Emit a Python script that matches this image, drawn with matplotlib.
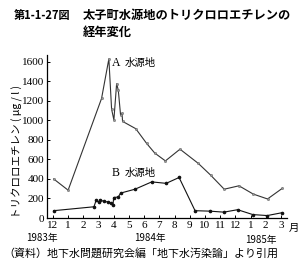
import matplotlib
matplotlib.use("Agg")
import matplotlib.pyplot as plt

plt.rcParams['font.family'] = ['Noto Sans CJK JP', 'DejaVu Sans']

# months counted from Dec 1983 (=0)
a_month = [0.05, 1.0, 3.2, 3.68, 3.86, 4.01, 4.19, 4.3, 4.45, 4.55, 4.58,
           5.45, 6.16, 6.7, 7.4, 8.36, 9.56, 10.37, 11.27, 12.24, 13.18, 14.12, 15.1]
a_value = [400, 285, 1225, 1630, 1115, 1005, 1375, 1310, 1055, 1075, 990,
           915, 765, 665, 585, 705, 560, 440, 295, 330, 245, 195, 305]

b_month = [0.05, 2.7, 2.85, 3.0, 3.1, 3.35, 3.6, 3.85, 3.95, 4.0, 4.3, 4.45,
           5.4, 6.5, 7.45, 8.3, 9.35, 10.35, 11.25, 12.15, 13.15, 14.1, 15.1]
b_value = [75, 115, 185, 160, 185, 170, 165, 155, 135, 210, 215, 255,
           295, 370, 355, 415, 75, 70, 60, 85, 35, 25, 55]

tick_labels = ["12", "1", "2", "3", "4", "5", "6", "7", "8", "9",
               "10", "11", "12", "1", "2", "3"]
y_ticks = [0, 200, 400, 600, 800, 1000, 1200, 1400, 1600]

W, H = 303, 272
fig = plt.figure(figsize=(W / 100, H / 100), dpi=100)
ax = fig.add_axes([47 / W, 54 / H, 240 / W, 163 / H])

ax.plot(a_month, a_value, color="#333333", lw=0.8, marker="o", ms=1.6,
        mfc="#999999", mec="#666666", mew=0.4)
ax.plot(b_month, b_value, color="#111111", lw=0.8, marker="o", ms=1.6,
        mfc="#111111", mec="#111111")

ax.set_xlim(-0.39, 15.4)
ax.set_ylim(0, 1670)
ax.set_xticks(range(len(tick_labels)))
ax.set_xticklabels(tick_labels)
ax.set_yticks(y_ticks)
for s in ["top", "right"]:
    ax.spines[s].set_visible(False)
for s in ["left", "bottom"]:
    ax.spines[s].set_linewidth(0.9)
ax.tick_params(direction="in", length=2.5, width=0.7, pad=2)
for lab in ax.get_xticklabels() + ax.get_yticklabels():
    lab.set_family("Liberation Serif")
    lab.set_fontsize(8)

ax.text(3.85, 1590, "A", fontsize=8.5, family="Liberation Serif", va="center")
ax.text(4.75, 1590, "水源地", fontsize=7.5, va="center")
ax.text(3.85, 460, "B", fontsize=8.5, family="Liberation Serif", va="center")
ax.text(4.75, 460, "水源地", fontsize=7.5, va="center")

def px(x, y, s, **kw):
    fig.text(x / W, 1 - y / H, s, **kw)

px(14, 15, "第1-1-27図", fontsize=8, fontweight="bold", va="center")
px(83, 15, "太子町水源地のトリクロロエチレンの", fontsize=8.8,
   fontweight="bold", va="center")
px(83, 32, "経年変化", fontsize=8.8, fontweight="bold", va="center")
px(17, 151, "トリクロロエチレン ( μg / l )", fontsize=7.6, rotation=90,
   ha="center", va="center")
px(289, 228, "月", fontsize=7.5, va="center")
px(42, 238, "1983年", fontsize=7, ha="center", va="center")
px(150, 238, "1984年", fontsize=7, ha="center", va="center")
px(261, 240, "1985年", fontsize=7, ha="center", va="center")
px(3, 253, "（資料）地下水問題研究会編「地下水汚染論」より引用", fontsize=7.9,
   va="center")

fig.savefig("out.png", dpi=100)
